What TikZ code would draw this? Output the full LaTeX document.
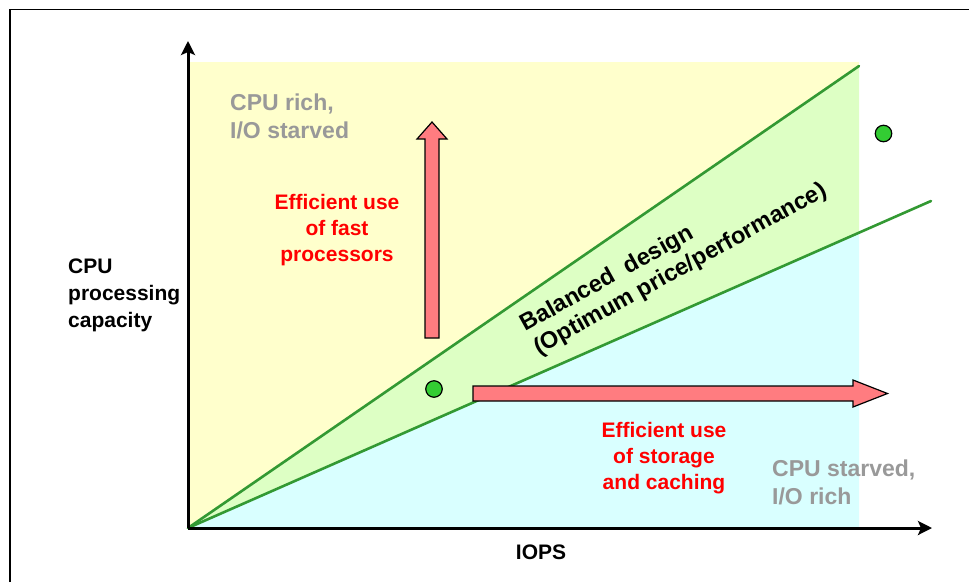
\documentclass[tikz,border=0pt]{standalone}
\usepackage{fontspec}
\setmainfont{Liberation Sans}
\usetikzlibrary{arrows.meta}

\definecolor{zoneyellow}{RGB}{255,255,204}
\definecolor{zonegreen}{RGB}{221,255,196}
\definecolor{zonecyan}{RGB}{217,255,255}
\definecolor{bandline}{RGB}{51,153,51}
\definecolor{dotgreen}{RGB}{51,204,51}
\definecolor{blockpink}{RGB}{255,124,128}
\definecolor{notegray}{RGB}{153,153,153}

\begin{document}
\begin{tikzpicture}[x=1pt,y=-1pt,
  frameline/.style={line width=1.5pt,black},
  axis/.style={line width=3pt,black,-{Stealth[length=14pt,width=14pt,inset=3pt]}},
  bandedge/.style={line width=2.6pt,bandline,line cap=round},
  dot/.style={circle,minimum size=16.5pt,inner sep=0pt,fill=dotgreen,draw=black,line width=1.2pt},
  blockarrow/.style={fill=blockpink,draw=black,line width=1.2pt,line join=miter},
  graynote/.style={inner sep=0pt,align=left,text=notegray,font=\fontsize{23}{28}\selectfont\bfseries},
  rednote/.style={inner sep=0pt,align=center,text=red,font=\fontsize{21}{26}\selectfont\bfseries},
  axislabel/.style={inner sep=0pt,text=black,font=\fontsize{21}{27}\selectfont\bfseries},
  bandtext/.style={inner sep=0pt,align=left,text=black,font=\fontsize{23.5}{27}\selectfont\bfseries}]
\useasboundingbox (0,0) rectangle (969,582);

% page frame
\draw[frameline] (10,582) -- (10,9.5) -- (969,9.5);

% key points of the chart
\coordinate (O) at (188,528);
\coordinate (ytip) at (188,41);
\coordinate (xtip) at (932,528);
\coordinate (upperEnd) at (859,66);
\coordinate (lowerEnd) at (931,201);
\coordinate (lowerEdge) at (859,232.7);

% regions
\fill[zoneyellow] (188,62) rectangle (859,528);
\fill[zonegreen] (O) -- (upperEnd) -- (lowerEdge) -- cycle;
\fill[zonecyan] (O) -- (lowerEdge) -- (859,528) -- cycle;

% balanced band boundaries
\draw[bandedge] (O) -- (upperEnd);
\draw[bandedge] (O) -- (lowerEnd);

% axes
\draw[axis] (O) -- (ytip);
\draw[axis] (O) -- (xtip);

% block arrows
\draw[blockarrow] (425,338) -- (425,139) -- (417,139) -- (432,122) -- (447,139) -- (439,139) -- (439,338) -- cycle;
\draw[blockarrow] (473,386) -- (853,386) -- (853,380) -- (887.5,393.5) -- (853,407) -- (853,401) -- (473,401) -- cycle;

% sample points
\node[dot] (pointA) at (434,389) {};
\node[dot] (pointB) at (883.5,133.5) {};

% labels (base anchor sits on the last line)
\node[graynote,anchor=base west] (rich) at (230,138) {CPU rich,\\I/O starved};
\node[graynote,anchor=base west] (starved) at (772,504) {CPU starved,\\I/O rich};
\node[rednote,anchor=base] (fastcpu) at (337,261.5) {Efficient use\\of fast\\processors};
\node[rednote,anchor=base] (storage) at (664,489) {Efficient use\\of storage\\and caching};
\node[axislabel,align=left,anchor=base west] (ylabel) at (68,327) {CPU\\processing\\capacity};
\node[axislabel,anchor=base] (xlabel) at (541,559.5) {IOPS};
\node[bandtext,rotate=29] (band) at (674,258) {Balanced\ \ design\\(Optimum price/performance)};
\end{tikzpicture}
\end{document}
